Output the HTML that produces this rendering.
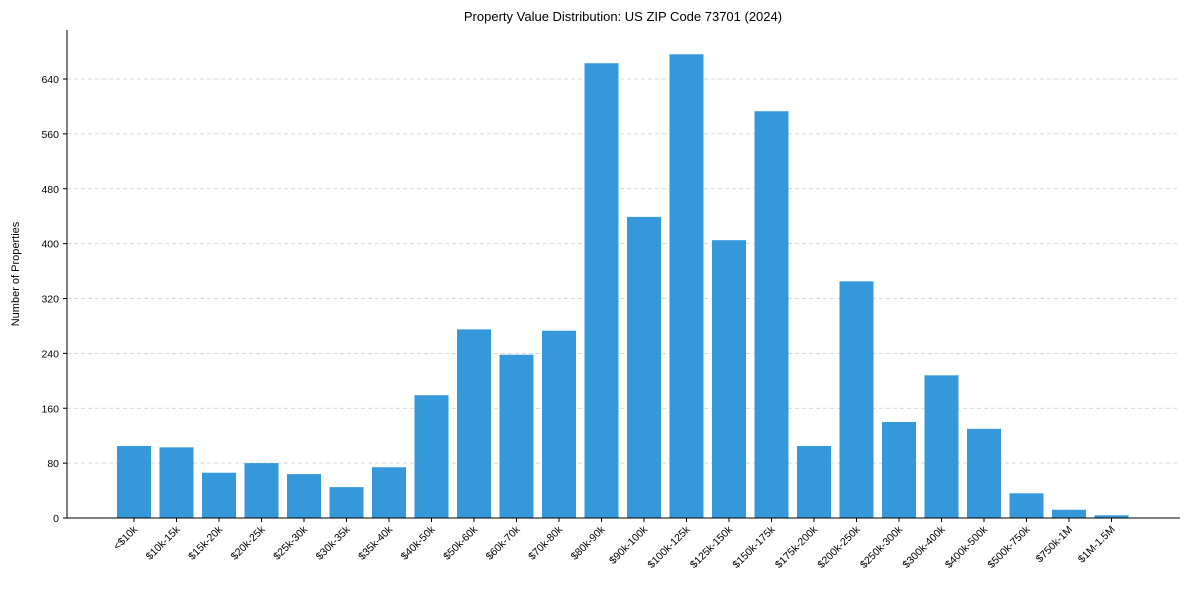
<!DOCTYPE html>
<html><head><meta charset="utf-8"><style>
body{margin:0;background:#fff;}
svg text{font-family:"Liberation Sans",Arial,sans-serif;fill:#000;}
</style></head><body>
<svg id="chart" width="1189" height="590" xmlns="http://www.w3.org/2000/svg">
<text x="623" y="21" font-size="13" text-anchor="middle">Property Value Distribution: US ZIP Code 73701 (2024)</text>
<text transform="translate(19,274) rotate(-90)" font-size="11" text-anchor="middle">Number of Properties</text>
<g id="grid"></g><g id="bars"></g><g id="axes"></g>
</svg>
<script>
const categories = ["<$10k","$10k-15k","$15k-20k","$20k-25k","$25k-30k","$30k-35k","$35k-40k","$40k-50k","$50k-60k","$60k-70k","$70k-80k","$80k-90k","$90k-100k","$100k-125k","$125k-150k","$150k-175k","$175k-200k","$200k-250k","$250k-300k","$300k-400k","$400k-500k","$500k-750k","$750k-1M","$1M-1.5M"];
const values = [105,103,66,80,64,45,74,179,275,238,273,663,439,676,405,593,105,345,140,208,130,36,12,4];
const yTicks = [0,80,160,240,320,400,480,560,640];
const NS="http://www.w3.org/2000/svg";
const x0=67,x1=1180,yBase=518,yTop=30;
const y=v=>yBase-v*(439/640);
const step=42.5, first=134;
const xc=i=>first+i*step;
function mk(t,a,p){const e=document.createElementNS(NS,t);for(const k in a)e.setAttribute(k,a[k]);p.appendChild(e);return e;}
const grid=document.getElementById('grid'),bars=document.getElementById('bars'),axes=document.getElementById('axes');
yTicks.forEach(t=>{
  if(t>0){const g=mk('line',{x1:x0,x2:x1,y1:y(t),y2:y(t),stroke:'#ccc','stroke-dasharray':'4,3','stroke-width':0.8},grid);
  
  }
  const tk=mk('line',{x1:x0-4,x2:x0,y1:y(t),y2:y(t),stroke:'#000'},axes);
  
  
  const l=mk('text',{x:x0-8,y:y(t)+4,'font-size':10.5,'text-anchor':'end'},axes);l.textContent=t;
  
  
});
values.forEach((v,i)=>{
  const r=mk('rect',{x:xc(i)-17,y:y(v),width:34,height:yBase-y(v),fill:'#3498db'},bars);
  
  
  const tk=mk('line',{x1:xc(i),x2:xc(i),y1:yBase,y2:yBase+4,stroke:'#000'},axes);
  
  
  const l=mk('text',{transform:`translate(${xc(i)+4},${yBase+12}) rotate(-45)`,'font-size':10.5,'text-anchor':'end'},axes);
  l.textContent=categories[i];
  
  
});
const ya=mk('line',{x1:x0,x2:x0,y1:yTop,y2:yBase,stroke:'#000','stroke-width':1},axes);


const xa=mk('line',{x1:x0,x2:x1,y1:yBase,y2:yBase,stroke:'#000','stroke-width':1},axes);


</script>
</body></html>
